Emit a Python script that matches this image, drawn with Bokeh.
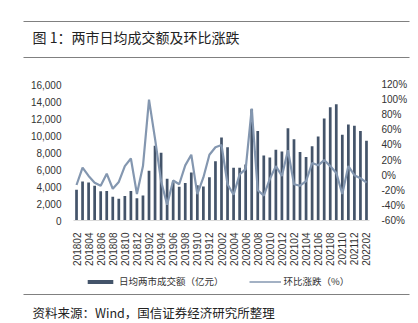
from bokeh.plotting import figure
from bokeh.layouts import column
from bokeh.models import (Range1d, LinearAxis, NumeralTickFormatter,
                          PrintfTickFormatter, FixedTicker, Legend, LegendItem,
                          ColumnDataSource)
from bokeh.core.properties import value
from bokeh.embed import file_html
from bokeh.resources import INLINE
import math

# ---------------- data ----------------
months = [
    "201802", "201803", "201804", "201805", "201806", "201807", "201808", "201809",
    "201810", "201811", "201812", "201901", "201902", "201903", "201904", "201905",
    "201906", "201907", "201908", "201909", "201910", "201911", "201912", "202001",
    "202002", "202003", "202004", "202005", "202006", "202007", "202008", "202009",
    "202010", "202011", "202012", "202101", "202102", "202103", "202104", "202105",
    "202106", "202107", "202108", "202109", "202110", "202111", "202112", "202201",
    "202202",
]
turnover = [
    3630, 4600, 4480, 4080, 3450, 3460, 2790, 2560,
    2870, 3480, 2610, 2950, 5860, 8800, 7960, 4910,
    4460, 3980, 4420, 5640, 4150, 4000, 5090, 6970,
    9770, 8620, 6200, 6200, 6590, 13100, 10530, 7660,
    7400, 8310, 8120, 10860, 9570, 8050, 7470, 8740,
    9880, 11990, 13310, 13680, 10100, 11300, 11160, 10530,
    9380,
]
mom_pct = [
    -13, 10, -1, -10, -14, 2, -18, -9,
    12, 22, -25, 12, 100, 48, -8, -39,
    -7, -12, 13, 27, -25, -3, 27, 37,
    40, -12, -26, 1, 8, 88, -20, -27,
    -5, 12, -1, 33, -12, -14, -8, 16,
    13, 20, 12, 3, -25, 12, 0, -4,
    -10,
]
left_ticks = [0, 2000, 4000, 6000, 8000, 10000, 12000, 14000, 16000]
right_ticks = [-60, -40, -20, 0, 20, 40, 60, 80, 100, 120]
label_step = 2  # every other month is labelled

title_text = "图 1：两市日均成交额及环比涨跌"
source_text = "资料来源：Wind，国信证券经济研究所整理"
bar_label = "日均两市成交额（亿元）"
line_label = "环比涨跌（%）"

# ---------------- style ----------------
W = 418
CJK = "Noto Sans CJK SC"
LAT = "Liberation Sans"
BAR_COLOR = "#44546A"
LINE_COLOR = "#8497B0"
RULE_COLOR = "#808080"
TEXT_COLOR = "#333333"


def deco_fig(h):
    f = figure(width=W, height=h, x_range=Range1d(0, W), y_range=Range1d(h, 0),
               x_axis_location=None, y_axis_location=None, toolbar_location=None,
               output_backend="svg", min_border=0, outline_line_color=None,
               title=None, frame_align=False)
    f.grid.visible = False
    return f


# header
header = deco_fig(60)
header.segment(x0=[23, 23], y0=[21, 57], x1=[409, 409], y1=[21, 57],
               line_color=RULE_COLOR, line_width=1.2)
header.text(x=[32], y=[36], text=[title_text], text_font=value(CJK),
            text_font_size=value("14px"), text_baseline="middle",
            text_color="#222222")

# main chart
idx = list(range(len(months)))
src = ColumnDataSource(dict(idx=idx, month=months, turnover=turnover, pct=mom_pct))
p = figure(width=W, height=208, x_range=Range1d(-0.5, len(months) - 0.5),
           y_range=Range1d(0, 16000), toolbar_location=None, output_backend="svg",
           min_border_left=73, min_border_right=49, min_border_top=24,
           min_border_bottom=45, outline_line_color=None, title=None,
           frame_align=False)
p.extra_y_ranges = {"pct": Range1d(-60, 120)}
p.grid.visible = False

p.vbar(x="idx", top="turnover", width=0.45, fill_color=BAR_COLOR,
       line_color=None, source=src)
p.line(x="idx", y="pct", y_range_name="pct", line_color=LINE_COLOR,
       line_width=2.2, source=src)

yl = p.yaxis[0]
yl.ticker = FixedTicker(ticks=left_ticks)
yl.formatter = NumeralTickFormatter(format="0,0")

yr = LinearAxis(y_range_name="pct", ticker=FixedTicker(ticks=right_ticks),
                formatter=PrintfTickFormatter(format="%d%%"))
p.add_layout(yr, "right")

for ax in (yl, yr):
    ax.axis_line_color = None
    ax.major_tick_line_color = None
    ax.minor_tick_line_color = None
    ax.major_label_standoff = 6
    ax.major_label_text_font = LAT
    ax.major_label_text_font_size = "10px"
    ax.major_label_text_color = TEXT_COLOR

xa = p.xaxis[0]
xa.ticker = FixedTicker(ticks=idx[::label_step])
xa.major_label_overrides = {i: months[i] for i in idx[::label_step]}
xa.axis_line_color = "#d9d9d9"
xa.major_tick_line_color = None
xa.minor_tick_line_color = None
xa.major_label_orientation = math.pi / 2
xa.major_label_standoff = 6
xa.major_label_text_font = LAT
xa.major_label_text_font_size = "10px"
xa.major_label_text_color = TEXT_COLOR

# footer: legend row, bottom rule, source note
footer = deco_fig(55)
# legend key renderers, kept outside the footer's visible range
leg_bar = footer.vbar(x=[-500], top=[-500], width=0.45, fill_color=BAR_COLOR,
                      line_color=None)
leg_line = footer.line(x=[-500, -499], y=[-500, -500], line_color=LINE_COLOR,
                       line_width=1.5)
legend = Legend(items=[LegendItem(label=bar_label, renderers=[leg_bar], index=0),
                       LegendItem(label=line_label, renderers=[leg_line])],
                orientation="horizontal", location=(84, 35),
                border_line_color=None, background_fill_alpha=0,
                padding=0, margin=0, spacing=25, label_standoff=3,
                glyph_width=32, glyph_height=5, label_height=10,
                label_text_font=CJK, label_text_font_size="9.5px",
                label_text_color=TEXT_COLOR, label_text_baseline="middle")
footer.add_layout(legend, "center")
footer.segment(x0=[23], y0=[26], x1=[409], y1=[26], line_color=RULE_COLOR, line_width=1.2)
footer.text(x=[32], y=[44], text=[source_text], text_font=value(CJK),
            text_font_size=value("12.5px"), text_baseline="middle",
            text_color="#222222")

layout = column(header, p, footer, spacing=0)
open("out.html", "w").write(file_html(layout, INLINE))
